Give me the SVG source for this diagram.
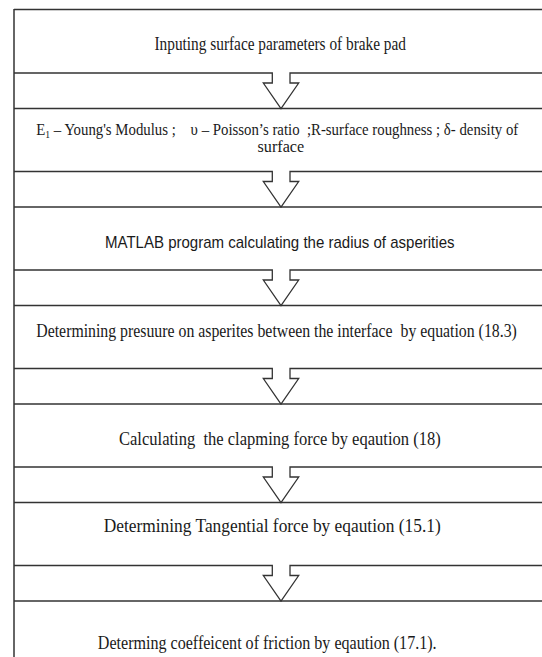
<svg xmlns="http://www.w3.org/2000/svg" width="542" height="657" viewBox="0 0 542 657">
<style>
.t{font-family:"Liberation Serif","Times New Roman",serif;font-size:19px;fill:#1a1a1a;white-space:pre}
.t2{font-family:"Liberation Serif","Times New Roman",serif;font-size:17px;fill:#1a1a1a;white-space:pre}
.s{font-family:"Liberation Sans",Arial,sans-serif;font-size:17px;fill:#1a1a1a}
.ln{stroke:#333;stroke-width:1.5;fill:none}
.frame{stroke:#666;stroke-width:2;fill:none}
.arr{stroke:#333;stroke-width:1.3;fill:none;stroke-linejoin:miter}
</style>
<rect width="542" height="657" fill="#fff"/>
<line class="frame" x1="14" y1="9" x2="14" y2="657"/>
<g id="node1">
<line class="ln" x1="14" y1="9.5" x2="542" y2="9.5"/>
<text class="t" x="154.5" y="50" textLength="251.5" lengthAdjust="spacingAndGlyphs">Inputing surface parameters of brake pad</text>
</g>
<g id="node2">
<line class="ln" x1="14" y1="108.5" x2="542" y2="108.5"/>
<text class="t2" xml:space="preserve" x="36.3" y="135" textLength="482" lengthAdjust="spacingAndGlyphs">E<tspan font-size="11" dy="3">1</tspan><tspan dy="-3"> – Young's Modulus ;    υ – Poisson’s ratio  ;R-surface roughness ; δ- density of</tspan></text>
<text class="t2" x="257.5" y="152" textLength="46.7" lengthAdjust="spacingAndGlyphs">surface</text>
</g>
<g id="node3">
<line class="ln" x1="14" y1="207" x2="542" y2="207"/>
<text class="s" x="105" y="248" textLength="349.5" lengthAdjust="spacingAndGlyphs">MATLAB program calculating the radius of asperities</text>
</g>
<g id="node4">
<line class="ln" x1="14" y1="305.5" x2="542" y2="305.5"/>
<text class="t" xml:space="preserve" x="36.3" y="337" textLength="480.5" lengthAdjust="spacingAndGlyphs">Determining presuure on asperites between the interface  by equation (18.3)</text>
</g>
<g id="node5">
<line class="ln" x1="14" y1="404" x2="542" y2="404"/>
<text class="t" xml:space="preserve" x="119" y="445" textLength="321.7" lengthAdjust="spacingAndGlyphs">Calculating  the clapming force by eqaution (18)</text>
</g>
<g id="node6">
<line class="ln" x1="14" y1="502.5" x2="542" y2="502.5"/>
<text class="t" x="103.7" y="532" textLength="337" lengthAdjust="spacingAndGlyphs">Determining Tangential force by eqaution (15.1)</text>
</g>
<g id="node7">
<line class="ln" x1="14" y1="601" x2="542" y2="601"/>
<text class="t" x="97.8" y="649" textLength="338.8" lengthAdjust="spacingAndGlyphs">Determing coeffeicent of friction by eqaution (17.1).</text>
</g>
<g id="connectors">
<polyline class="arr" points="14,73 272.3,73 272.3,83 263.3,83 281,108.5 298.7,83 290,83 290,73 542,73"/>
<polyline class="arr" points="14,171.5 272.3,171.5 272.3,181.5 263.3,181.5 281,207 298.7,181.5 290,181.5 290,171.5 542,171.5"/>
<polyline class="arr" points="14,270 272.3,270 272.3,280 263.3,280 281,305.5 298.7,280 290,280 290,270 542,270"/>
<polyline class="arr" points="14,368.5 272.3,368.5 272.3,378.5 263.3,378.5 281,404 298.7,378.5 290,378.5 290,368.5 542,368.5"/>
<polyline class="arr" points="14,467 272.3,467 272.3,477 263.3,477 281,502.5 298.7,477 290,477 290,467 542,467"/>
<polyline class="arr" points="14,565.5 272.3,565.5 272.3,575.5 263.3,575.5 281,601 298.7,575.5 290,575.5 290,565.5 542,565.5"/>
</g>
</svg>
